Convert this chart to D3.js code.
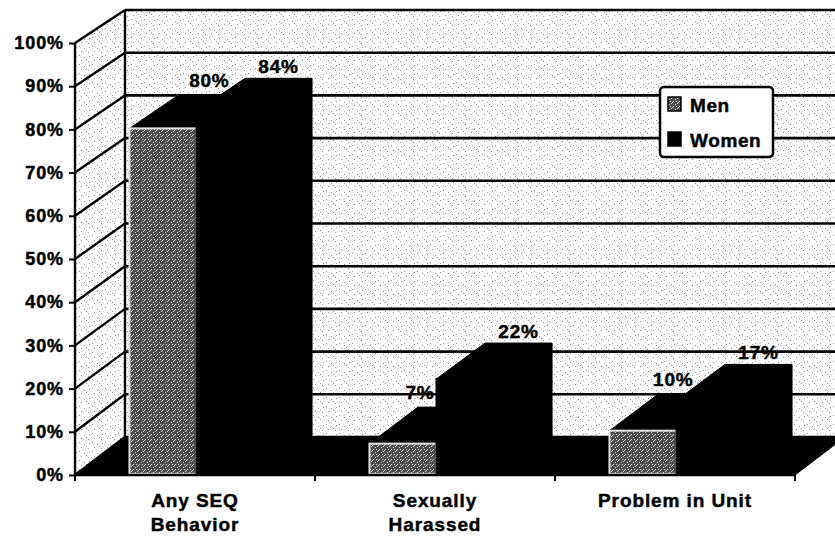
<!DOCTYPE html>
<html>
<head>
<meta charset="utf-8">
<script src="https://cdn.jsdelivr.net/npm/d3@7"></script>
<style>
  html, body { margin: 0; padding: 0; background: #fff; }
  svg { display: block; }
  text { font-family: "Liberation Sans", Arial, sans-serif; font-weight: bold; fill: #000; stroke: #000; stroke-width: 0.45px; }
</style>
</head>
<body>
<svg id="chart" width="835" height="539"></svg>
<script>
// ---- data ----
const categories = ["Any SEQ\nBehavior", "Sexually\nHarassed", "Problem in Unit"];
const seriesNames = ["Men", "Women"];
const men = [80, 7, 10];
const women = [84, 22, 17];
const yTicks = [0, 10, 20, 30, 40, 50, 60, 70, 80, 90, 100];

// ---- layout ----
const W = 835, H = 539;
const svg = d3.select("#chart");
const defs = svg.append("defs");

// wall speckle texture
const wallPat = defs.append("pattern").attr("id", "wall").attr("patternUnits", "userSpaceOnUse")
  .attr("width", 13).attr("height", 9);
wallPat.append("rect").attr("width", 13).attr("height", 9).attr("fill", "#fdfdfd");
[[1,1],[6,3],[3,6],[10,7],[11,2],[8,5]].forEach(([x,y]) =>
  wallPat.append("rect").attr("x", x).attr("y", y).attr("width", 1).attr("height", 1).attr("fill", "#9a9a9a"));

// men face texture
const menPat = defs.append("pattern").attr("id", "menfill").attr("patternUnits", "userSpaceOnUse")
  .attr("width", 6).attr("height", 5);
menPat.append("rect").attr("width", 6).attr("height", 5).attr("fill", "#4c4c4c");
[[0,0],[3,2],[1,4],[5,1],[4,4]].forEach(([x,y]) =>
  menPat.append("rect").attr("x", x).attr("y", y).attr("width", 1).attr("height", 1).attr("fill", "#d8d8d8"));

const x0 = 75, x1 = 795;
const depthDX = 50;
const yFront = d3.scaleLinear().domain([0, 100]).range([475, 43]);
const yBack  = d3.scaleLinear().domain([0, 100]).range([437, 10]);
const xCat = d3.scaleBand().domain(categories).range([x0, x1]).padding(0);
const xSer = d3.scaleBand().domain(seriesNames).range([0, xCat.bandwidth()]).paddingOuter(0.79).paddingInner(0);

// project a point at front-plane x, value v, depth t (0 front .. 1 back)
function P(x, v, t) {
  return [x + depthDX * t, yFront(v) * (1 - t) + yBack(v) * t];
}
const pts = a => a.map(p => p.join(",")).join(" ");

// ---- walls ----
const xBackRight = W + 10;
svg.append("polygon").attr("points", pts([[x0 + depthDX, yBack(100)], [xBackRight, yBack(100)], [xBackRight, yBack(0)], [x0 + depthDX, yBack(0)]]))
  .attr("fill", "url(#wall)");
svg.append("polygon").attr("points", pts([P(x0, 0, 0), P(x0, 100, 0), P(x0, 100, 1), P(x0, 0, 1)]))
  .attr("fill", "url(#wall)");
// floor
svg.append("polygon").attr("points", pts([P(x0, 0, 0), P(x1, 0, 0), [x1 + depthDX, yBack(0)], P(x0, 0, 1)]))
  .attr("fill", "#000").attr("stroke", "#000").attr("stroke-width", 1);

// gridlines: back wall & left wall
yTicks.forEach(v => {
  svg.append("line").attr("x1", x0 + depthDX).attr("x2", xBackRight).attr("y1", yBack(v)).attr("y2", yBack(v))
    .attr("stroke", "#000").attr("stroke-width", 2.6);
  const a = P(x0, v, 0), b = P(x0, v, 1);
  svg.append("line").attr("x1", a[0]).attr("y1", a[1]).attr("x2", b[0]).attr("y2", b[1])
    .attr("stroke", "#000").attr("stroke-width", 2.4);
});
// back-left vertical edge
svg.append("line").attr("x1", x0 + depthDX).attr("x2", x0 + depthDX).attr("y1", yBack(100)).attr("y2", yBack(0))
  .attr("stroke", "#000").attr("stroke-width", 2.4);

// ---- bars ----
const t0 = 0.03, t1 = 1;
function drawBar(xl, xr, v, frontFill, frontStroke) {
  const g = svg.append("g");
  // whole silhouette in black (side + top), stroked to hide seams
  g.append("polygon")
    .attr("points", pts([P(xl, 0, t0), P(xl, v, t0), P(xl, v, t1), P(xr, v, t1), P(xr, 0, t1), P(xr, 0, t0)]))
    .attr("fill", "#000").attr("stroke", "#000").attr("stroke-width", 1).attr("stroke-linejoin", "round");
  // front face
  const fl = P(xl, v, t0), fr = P(xr, 0, t0);
  g.append("rect").attr("x", fl[0]).attr("y", fl[1]).attr("width", fr[0] - fl[0]).attr("height", fr[1] - fl[1])
    .attr("fill", frontFill).attr("stroke", frontStroke).attr("stroke-width", 2);
}

categories.forEach((c, i) => {
  const mx = xCat(c) + xSer("Men"), wx = xCat(c) + xSer("Women"), bw = xSer.bandwidth();
  drawBar(mx, mx + bw, men[i], "url(#menfill)", "#e2e2e2");
  drawBar(wx, wx + bw, women[i], "#000", "#000");
});

// ---- data labels ----
const labelStyle = sel => sel.attr("font-size", 19).attr("letter-spacing", 0.8);
categories.forEach((c, i) => {
  const wx = xCat(c) + xSer("Women"), bw = xSer.bandwidth();
  // women label: centered over back top edge
  const wb = P(wx + bw / 2, women[i], t1);
  svg.append("text").attr("x", wb[0]).attr("y", wb[1] - 5).attr("text-anchor", "middle")
    .call(labelStyle).text(women[i] + "%");
  // men label: over men bar, kept clear of the women bar's slanted edge
  const yb = yBack(men[i]) - 8;
  const wf = P(wx, women[i], t0), wk = P(wx, women[i], t1);
  let xe;
  if (yb >= wf[1]) xe = wf[0];
  else xe = wf[0] + (wk[0] - wf[0]) * Math.min(1, (wf[1] - yb) / (wf[1] - wk[1]));
  svg.append("text").attr("x", xe - 2).attr("y", yb).attr("text-anchor", "end")
    .call(labelStyle).text(men[i] + "%");
});

// ---- front axes ----
svg.append("line").attr("x1", x0).attr("x2", x0).attr("y1", yFront(100)).attr("y2", yFront(0) + 1)
  .attr("stroke", "#000").attr("stroke-width", 2.4);
svg.append("line").attr("x1", x0).attr("x2", x1).attr("y1", yFront(0)).attr("y2", yFront(0))
  .attr("stroke", "#000").attr("stroke-width", 2.4);

const yAxis = d3.axisLeft(yFront).tickValues(yTicks).tickFormat(d => d + "%").tickSize(6).tickPadding(5);
const gy = svg.append("g").attr("transform", `translate(${x0},0)`).call(yAxis);
gy.select(".domain").remove();
gy.selectAll(".tick line").attr("stroke", "#000").attr("stroke-width", 2);
gy.selectAll(".tick text").attr("font-size", 18).attr("letter-spacing", 0.9)
  .attr("font-family", "'Liberation Sans', Arial, sans-serif").attr("font-weight", "bold").attr("fill", "#000");

// category ticks at boundaries
const bounds = categories.map(c => xCat(c)).concat([x1]);
svg.selectAll(".xtick").data(bounds).enter().append("line")
  .attr("x1", d => d).attr("x2", d => d).attr("y1", yFront(0)).attr("y2", yFront(0) + 6)
  .attr("stroke", "#000").attr("stroke-width", 2);

// category labels
categories.forEach(c => {
  const lines = c.split("\n");
  const t = svg.append("text").attr("text-anchor", "middle").attr("font-size", 19).attr("letter-spacing", 0.9);
  lines.forEach((ln, k) => {
    t.append("tspan").attr("x", xCat(c) + xCat.bandwidth() / 2).attr("y", 507 + k * 23.5).text(ln);
  });
});

// ---- legend ----
const lg = svg.append("g").attr("transform", "translate(660,87)");
lg.append("rect").attr("width", 113).attr("height", 70).attr("rx", 4).attr("fill", "#fff")
  .attr("stroke", "#000").attr("stroke-width", 2.5);
seriesNames.forEach((s, k) => {
  const yy = 10 + k * 35;
  lg.append("rect").attr("x", 8).attr("y", yy).attr("width", 13).attr("height", 14)
    .attr("fill", k === 0 ? "url(#menfill)" : "#000").attr("stroke", "#000").attr("stroke-width", 1.5);
  lg.append("text").attr("x", 30).attr("y", yy + 15).attr("font-size", 19).attr("letter-spacing", 0.6).text(s);
});
</script>
</body>
</html>
